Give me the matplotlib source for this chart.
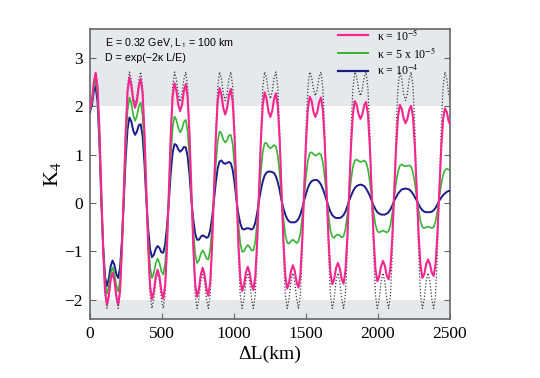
import numpy as np
import matplotlib
matplotlib.use("Agg")
import matplotlib.pyplot as plt
from matplotlib.lines import Line2D

plt.rcParams['font.family'] = ['Liberation Serif', 'DejaVu Serif']
plt.rcParams['mathtext.fontset'] = 'stix'

# sample positions along Delta L (km): 24 samples per oscillation period (~313 km)
n_points = 193
dl_km = np.arange(n_points) * 313.0 / 24.0

# K4 without decoherence (dotted)
k4_no_dec = [
    1.97, 2.14, 2.50, 2.71, 2.43, 1.56, 0.27,
    -1.02, -1.90, -2.18, -1.98, -1.62, -1.45, -1.62, -1.98, -2.18, -1.90, -1.02, 0.27,
    1.54, 2.41, 2.71, 2.54, 2.21, 2.05, 2.21, 2.54, 2.71, 2.41, 1.54, 0.27,
    -1.02, -1.90, -2.18, -1.98, -1.62, -1.45, -1.62, -1.98, -2.18, -1.90, -1.02, 0.27,
    1.53, 2.40, 2.71, 2.56, 2.25, 2.10, 2.25, 2.56, 2.71, 2.40, 1.53, 0.27,
    -1.02, -1.90, -2.18, -1.98, -1.62, -1.45, -1.62, -1.98, -2.18, -1.90, -1.02, 0.27,
    1.52, 2.40, 2.71, 2.57, 2.26, 2.12, 2.26, 2.57, 2.71, 2.40, 1.52, 0.27,
    -1.02, -1.90, -2.18, -1.98, -1.62, -1.45, -1.62, -1.98, -2.18, -1.90, -1.02, 0.27,
    1.51, 2.39, 2.71, 2.58, 2.30, 2.16, 2.30, 2.58, 2.71, 2.39, 1.51, 0.27,
    -1.02, -1.90, -2.18, -1.98, -1.62, -1.45, -1.62, -1.98, -2.18, -1.90, -1.02, 0.27,
    1.50, 2.37, 2.71, 2.61, 2.35, 2.22, 2.35, 2.61, 2.71, 2.37, 1.50, 0.27,
    -1.02, -1.90, -2.18, -1.98, -1.62, -1.45, -1.62, -1.98, -2.18, -1.90, -1.02, 0.27,
    1.50, 2.37, 2.71, 2.61, 2.35, 2.22, 2.35, 2.61, 2.71, 2.37, 1.50, 0.27,
    -1.02, -1.90, -2.18, -1.98, -1.62, -1.45, -1.62, -1.98, -2.18, -1.90, -1.02, 0.27,
    1.52, 2.40, 2.71, 2.57, 2.26, 2.12, 2.26, 2.57, 2.71, 2.40, 1.52, 0.27,
    -1.02, -1.90, -2.18, -1.98, -1.62, -1.45, -1.62, -1.98, -2.18, -1.90, -1.02, 0.27,
    1.53, 2.40, 2.71, 2.56, 2.25, 2.10,
]

# kappa = 1e-5 (pink)
k4_k1e5 = [
    1.95, 2.12, 2.48, 2.69, 2.41, 1.54, 0.25,
    -0.98, -1.82, -2.10, -1.92, -1.59, -1.44, -1.59, -1.92, -2.10, -1.82, -0.98, 0.25,
    1.47, 2.31, 2.60, 2.43, 2.12, 1.97, 2.11, 2.42, 2.57, 2.28, 1.45, 0.25,
    -0.92, -1.72, -1.99, -1.83, -1.52, -1.38, -1.52, -1.82, -1.98, -1.71, -0.91, 0.25,
    1.40, 2.20, 2.48, 2.33, 2.04, 1.90, 2.03, 2.32, 2.46, 2.18, 1.39, 0.25,
    -0.89, -1.68, -1.94, -1.78, -1.48, -1.34, -1.48, -1.77, -1.92, -1.65, -0.88, 0.25,
    1.35, 2.11, 2.38, 2.24, 1.96, 1.83, 1.96, 2.23, 2.36, 2.09, 1.34, 0.25,
    -0.81, -1.55, -1.82, -1.70, -1.44, -1.32, -1.44, -1.69, -1.80, -1.53, -0.80, 0.25,
    1.30, 2.03, 2.29, 2.16, 1.90, 1.78, 1.90, 2.15, 2.27, 2.01, 1.29, 0.25,
    -0.79, -1.51, -1.77, -1.65, -1.41, -1.29, -1.40, -1.64, -1.75, -1.49, -0.77, 0.25,
    1.24, 1.94, 2.20, 2.11, 1.89, 1.78, 1.88, 2.09, 2.18, 1.92, 1.23, 0.25,
    -0.73, -1.43, -1.68, -1.58, -1.35, -1.24, -1.35, -1.57, -1.67, -1.41, -0.73, 0.25,
    1.19, 1.85, 2.11, 2.03, 1.84, 1.74, 1.83, 2.02, 2.09, 1.83, 1.17, 0.25,
    -0.70, -1.37, -1.62, -1.52, -1.31, -1.20, -1.30, -1.50, -1.58, -1.33, -0.68, 0.25,
    1.15, 1.79, 2.03, 1.95, 1.75, 1.65, 1.74, 1.93, 2.01, 1.77, 1.14, 0.25,
    -0.66, -1.30, -1.55, -1.47, -1.27, -1.17, -1.26, -1.44, -1.51, -1.26, -0.63, 0.25,
    1.12, 1.73, 1.96, 1.88, 1.69, 1.60,
]

# kappa = 5e-5 (green)
k4_k5e5 = [
    1.92, 2.07, 2.39, 2.56, 2.26, 1.39, 0.13,
    -0.92, -1.64, -1.88, -1.73, -1.46, -1.33, -1.45, -1.70, -1.83, -1.58, -0.88, 0.13,
    1.18, 1.91, 2.18, 2.07, 1.82, 1.70, 1.80, 2.00, 2.08, 1.81, 1.11, 0.13,
    -0.73, -1.33, -1.55, -1.45, -1.25, -1.15, -1.24, -1.41, -1.48, -1.26, -0.68, 0.13,
    0.97, 1.56, 1.79, 1.72, 1.55, 1.46, 1.53, 1.68, 1.72, 1.48, 0.92, 0.13,
    -0.56, -1.05, -1.24, -1.19, -1.05, -0.98, -1.04, -1.15, -1.17, -0.97, -0.51, 0.13,
    0.80, 1.28, 1.48, 1.44, 1.31, 1.25, 1.30, 1.40, 1.41, 1.21, 0.75, 0.13,
    -0.43, -0.83, -1.01, -1.00, -0.92, -0.87, -0.91, -0.98, -0.98, -0.80, -0.40, 0.13,
    0.66, 1.06, 1.24, 1.24, 1.17, 1.13, 1.16, 1.20, 1.17, 0.98, 0.62, 0.13,
    -0.32, -0.66, -0.82, -0.84, -0.79, -0.76, -0.79, -0.83, -0.80, -0.63, -0.31, 0.13,
    0.55, 0.87, 1.03, 1.05, 1.01, 0.98, 1.00, 1.03, 1.00, 0.84, 0.53, 0.13,
    -0.26, -0.56, -0.70, -0.72, -0.67, -0.65, -0.67, -0.71, -0.69, -0.55, -0.26, 0.13,
    0.48, 0.75, 0.88, 0.90, 0.87, 0.85, 0.86, 0.88, 0.84, 0.70, 0.45, 0.13,
    -0.20, -0.45, -0.58, -0.61, -0.59, -0.57, -0.59, -0.61, -0.58, -0.45, -0.20, 0.13,
    0.43, 0.65, 0.77, 0.80, 0.77, 0.76, 0.77, 0.78, 0.75, 0.63, 0.41, 0.13,
    -0.16, -0.38, -0.50, -0.52, -0.50, -0.49, -0.50, -0.52, -0.50, -0.38, -0.16, 0.13,
    0.38, 0.58, 0.68, 0.71, 0.69, 0.68,
]

# kappa = 1e-4 (blue)
k4_k1e4 = [
    1.89, 2.02, 2.30, 2.42, 2.10, 1.26, 0.05,
    -0.88, -1.52, -1.72, -1.57, -1.31, -1.19, -1.28, -1.47, -1.55, -1.34, -0.77, 0.05,
    0.92, 1.53, 1.77, 1.69, 1.50, 1.41, 1.48, 1.61, 1.63, 1.39, 0.82, 0.05,
    -0.54, -0.96, -1.12, -1.07, -0.95, -0.89, -0.93, -1.02, -1.03, -0.86, -0.48, 0.05,
    0.62, 1.04, 1.22, 1.20, 1.11, 1.06, 1.10, 1.16, 1.15, 0.96, 0.58, 0.05,
    -0.34, -0.63, -0.76, -0.76, -0.70, -0.67, -0.69, -0.72, -0.70, -0.57, -0.30, 0.05,
    0.43, 0.72, 0.86, 0.88, 0.83, 0.81, 0.83, 0.85, 0.82, 0.68, 0.41, 0.05,
    -0.22, -0.42, -0.53, -0.55, -0.53, -0.52, -0.53, -0.55, -0.52, -0.41, -0.21, 0.05,
    0.27, 0.45, 0.57, 0.63, 0.65, 0.65, 0.64, 0.62, 0.55, 0.43, 0.26, 0.05,
    -0.11, -0.24, -0.33, -0.38, -0.40, -0.40, -0.40, -0.38, -0.33, -0.24, -0.11, 0.05,
    0.19, 0.31, 0.40, 0.45, 0.47, 0.48, 0.47, 0.44, 0.38, 0.29, 0.18, 0.05,
    -0.07, -0.18, -0.25, -0.29, -0.31, -0.31, -0.31, -0.29, -0.25, -0.18, -0.07, 0.05,
    0.15, 0.24, 0.31, 0.35, 0.37, 0.38, 0.37, 0.35, 0.30, 0.23, 0.15, 0.05,
    -0.05, -0.13, -0.19, -0.22, -0.24, -0.24, -0.24, -0.22, -0.19, -0.13, -0.05, 0.05,
    0.12, 0.19, 0.24, 0.28, 0.29, 0.30, 0.29, 0.28, 0.24, 0.19, 0.12, 0.05,
    -0.03, -0.10, -0.15, -0.18, -0.19, -0.19, -0.19, -0.18, -0.15, -0.10, -0.03, 0.05,
    0.11, 0.16, 0.20, 0.23, 0.25, 0.25,
]

legend_labels = ['κ = 10$^{-5}$', 'κ = 5 x 10$^{-5}$', 'κ = 10$^{-4}$']
x_ticks = [0, 500, 1000, 1500, 2000, 2500]
y_ticks = [-2, -1, 0, 1, 2, 3]

c_pink = '#f7258f'
c_green = '#35b435'
c_blue = '#1b1b8c'
c_band = '#e6e9ec'

fig = plt.figure(figsize=(5.4, 3.78), dpi=100)
ax = fig.add_axes([90 / 540, 1 - 319 / 378, 360 / 540, 290 / 378])

ax.axhspan(2, 3.6, color=c_band, lw=0, zorder=0)
ax.axhspan(-2.4, -2, color=c_band, lw=0, zorder=0)

ax.plot(dl_km, k4_no_dec, ls=(0, (1, 1.5)), color='#3a3a3a', lw=0.9, zorder=2)
ax.plot(dl_km, k4_k1e4, color=c_blue, lw=1.4, zorder=3)
ax.plot(dl_km, k4_k5e5, color=c_green, lw=1.2, zorder=4)
ax.plot(dl_km, k4_k1e5, color=c_pink, lw=1.5, zorder=5)

ax.set_xlim(0, 2500)
ax.set_ylim(-2.4, 3.6)
ax.set_xticks(x_ticks)
ax.set_yticks(y_ticks)
ax.tick_params(direction='in', length=4, width=0.8, color='#666666',
               labelsize=12.5, right=True, top=False, pad=5)
for sp in ax.spines.values():
    sp.set_color('#666666')
    sp.set_linewidth(1.2)

ax.set_xlabel('ΔL(km)', fontsize=14, labelpad=3)
ax.set_ylabel('K$_4$', fontsize=16, labelpad=1)

ax.text(0.042, 0.953, r'E = 0.32 GeV, L$_\mathsf{1}$ = 100 km', transform=ax.transAxes,
        family=['Liberation Sans', 'DejaVu Sans'], fontsize=7.7, va='center', ha='left')
ax.text(0.042, 0.901, 'D = exp(−2κ L/E)', transform=ax.transAxes,
        family=['Liberation Sans', 'DejaVu Sans'], fontsize=7.7, va='center', ha='left')

handles = [Line2D([], [], color=c_pink, lw=1.6),
           Line2D([], [], color=c_green, lw=1.4),
           Line2D([], [], color=c_blue, lw=1.6)]
ax.legend(handles, legend_labels, loc='upper left', bbox_to_anchor=(0.688, 1.005),
          frameon=False, fontsize=8.5, handlelength=2.6, handletextpad=0.7,
          labelspacing=0.25, borderpad=0, borderaxespad=0)

fig.savefig('out.png', dpi=100)
